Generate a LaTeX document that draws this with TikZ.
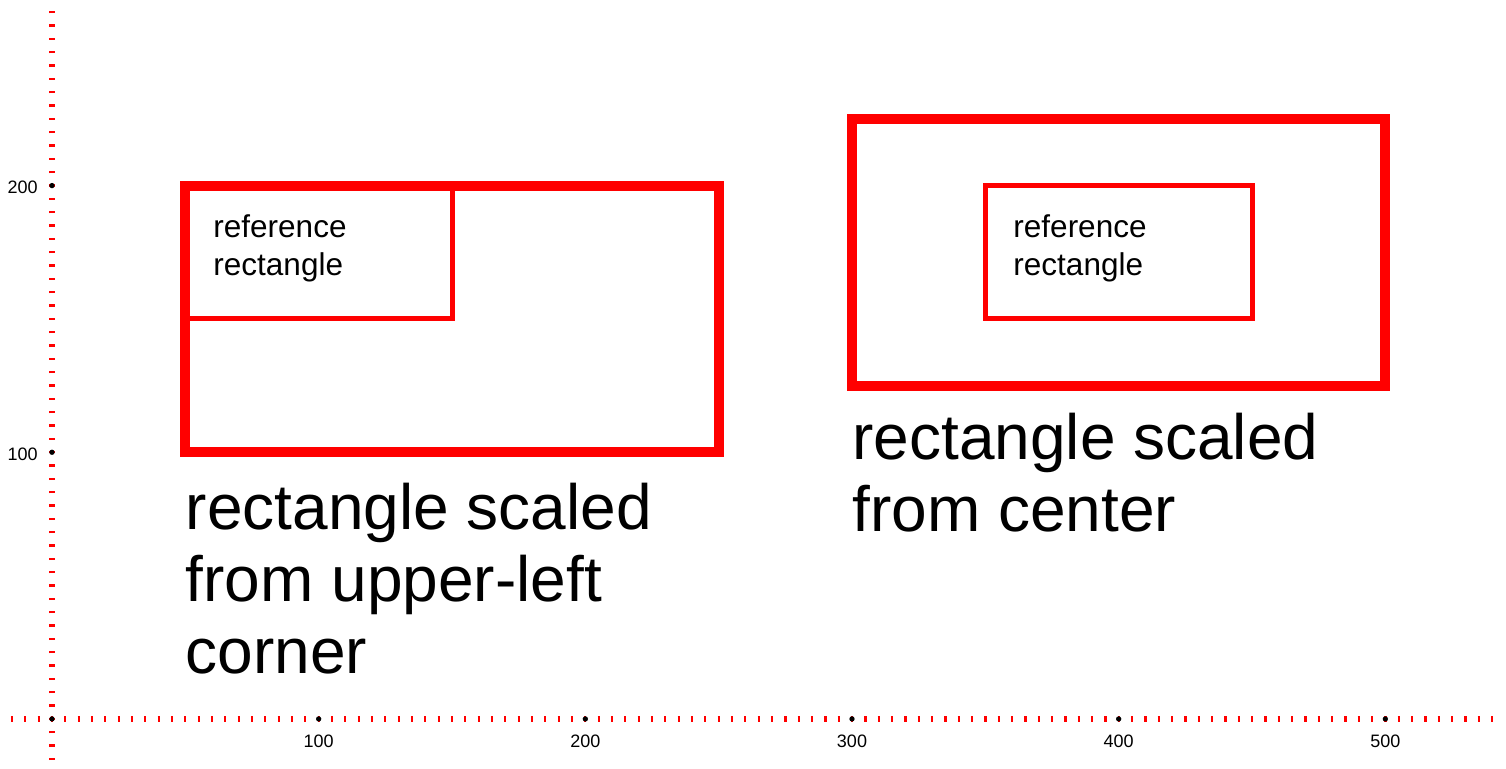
\documentclass[tikz,border=0pt]{standalone}
\usepackage{fontspec}
\setmainfont{Liberation Sans}
\begin{document}
\begin{tikzpicture}[x=1.3333pt,y=1.3333pt,
    axisline/.style={red,line width=2.8pt,dash pattern=on 1.1pt off 5.567pt},
    bigrect/.style={red,line width=5pt},
    refrect/.style={red,line width=2.5pt},
    smalltxt/.style={anchor=base west,inner sep=0pt,align=left,font=\fontsize{15.75}{19}\selectfont},
    bigtxt/.style={anchor=base west,inner sep=0pt,align=left,font=\fontsize{32}{36}\selectfont},
    ticktxt/.style={inner sep=0pt,font=\fontsize{9}{10}\selectfont}]

  \useasboundingbox (-19.5,-18.75) rectangle (545.25,269.6);

  % axes
  \draw[axisline] (-15.41,0) -- (540.5,0);
  \draw[axisline] (0,-15.41) -- (0,265.5);
  \fill (0,0) circle (1);
  \foreach \t in {100,200,300,400,500}{
    \fill (\t,0) circle (1);
    \node[ticktxt,anchor=base] (x\t) at (\t,-10.8) {\t};
  }
  \foreach \t in {100,200}{
    \fill (0,\t) circle (1);
    \node[ticktxt,anchor=base east] (y\t) at (-5.25,\t-3) {\t};
  }

  % scaled from the corner (base = last line)
  \draw[bigrect] (50,100) rectangle (250,200);
  \draw[refrect] (50,150) rectangle (150,200);
  \node[smalltxt] (refA) at (60.4,166.4) {reference\\rectangle};
  \node[bigtxt] (capA) at (50,17.2) {rectangle scaled\\from upper-left\\corner};

  % scaled from the center
  \draw[bigrect] (300,125) rectangle (500,225);
  \draw[refrect] (350,150) rectangle (450,200);
  \node[smalltxt] (refB) at (360.4,166.4) {reference\\rectangle};
  \node[bigtxt] (capB) at (300,70.2) {rectangle scaled\\from center};

\end{tikzpicture}
\end{document}
